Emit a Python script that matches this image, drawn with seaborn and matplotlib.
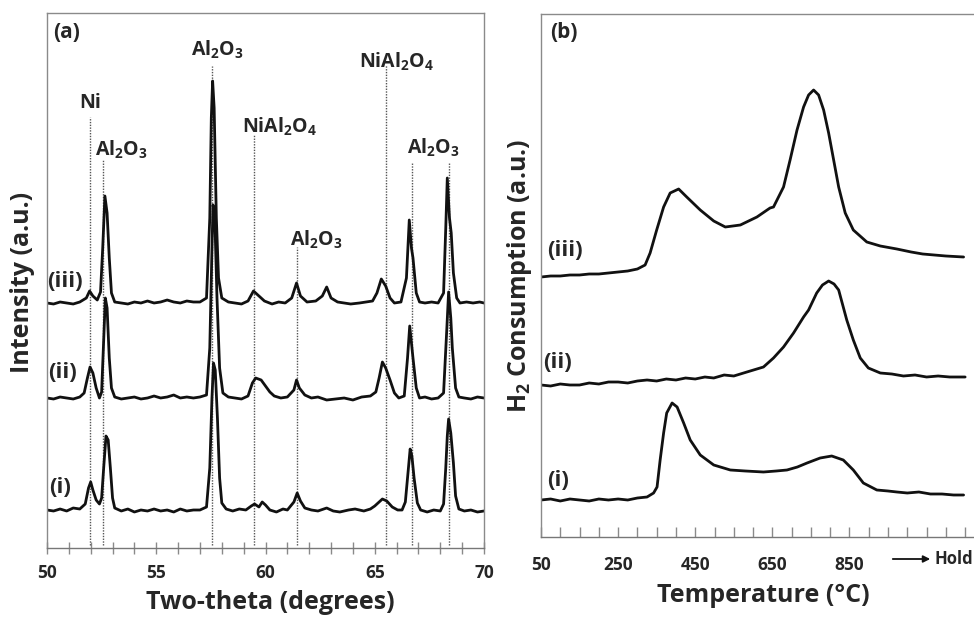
import matplotlib
matplotlib.use("Agg")
import matplotlib.pyplot as plt
import pandas as pd
import seaborn as sns
from matplotlib.ticker import MultipleLocator, FixedLocator

# ---------------- XRD data (panel a), traces stacked with offsets ----------------
xrd_i_x = [50.0, 50.3, 50.6, 50.9, 51.2, 51.5, 51.75, 51.9, 52.0, 52.1, 52.25, 52.4, 52.5, 52.6, 52.7,
           52.8, 52.9, 53.0, 53.1, 53.4, 53.7, 54.0, 54.3, 54.6, 54.9, 55.2, 55.5, 55.8, 56.1, 56.4,
           56.7, 57.0, 57.3, 57.45, 57.55, 57.62, 57.7, 57.8, 57.9, 58.0, 58.2, 58.5, 58.8, 59.1,
           59.35, 59.5, 59.7, 59.85, 60.0, 60.2, 60.5, 60.8, 61.0, 61.3, 61.45, 61.6, 61.8, 62.1,
           62.4, 62.8, 63.1, 63.4, 63.8, 64.1, 64.5, 64.8, 65.0, 65.2, 65.35, 65.55, 65.8, 66.05,
           66.25, 66.4, 66.55, 66.62, 66.7, 66.8, 66.95, 67.1, 67.4, 67.7, 68.0, 68.15, 68.25, 68.32,
           68.38, 68.48, 68.6, 68.7, 68.85, 69.1, 69.4, 69.7, 70.0]
xrd_i_y = [38, 37, 39, 37, 40, 39, 44, 60, 66, 58, 48, 44, 50, 82, 112,
           108, 80, 50, 40, 37, 39, 36, 38, 37, 39, 37, 38, 36, 39, 37,
           38, 38, 41, 80, 150, 185, 178, 130, 70, 45, 39, 37, 39, 38,
           42, 44, 41, 46, 43, 38, 36, 39, 38, 46, 55, 47, 40, 38,
           37, 40, 37, 36, 38, 39, 37, 39, 42, 46, 49, 47, 41, 38,
           38, 46, 82, 99, 92, 70, 45, 38, 36, 38, 37, 44, 80, 112,
           129, 115, 85, 52, 39, 37, 38, 36, 37]

xrd_ii_x = [50.0, 50.3, 50.6, 50.9, 51.2, 51.5, 51.7, 51.85, 51.97, 52.1, 52.25, 52.4, 52.5, 52.58, 52.67,
            52.75, 52.85, 52.95, 53.1, 53.4, 53.7, 54.0, 54.3, 54.6, 54.9, 55.2, 55.5, 55.8, 56.1,
            56.4, 56.7, 57.0, 57.3, 57.45, 57.55, 57.6, 57.68, 57.78, 57.9, 58.05, 58.3, 58.6, 58.9,
            59.2, 59.4, 59.55, 59.8, 60.0, 60.2, 60.4, 60.7, 61.0, 61.3, 61.42, 61.55, 61.8, 62.1,
            62.4, 62.8, 63.2, 63.6, 64.0, 64.4, 64.8, 65.05, 65.2, 65.35, 65.5, 65.7, 65.9, 66.1,
            66.35, 66.5, 66.6, 66.68, 66.75, 66.9, 67.05, 67.3, 67.6, 67.9, 68.15, 68.3, 68.38,
            68.48, 68.55, 68.7, 68.85, 69.1, 69.4, 69.7, 70.0]
xrd_ii_y = [150, 149, 151, 150, 149, 151, 155, 170, 181, 175, 160, 150, 156, 200, 250,
            240, 190, 160, 151, 149, 150, 151, 149, 150, 152, 150, 151, 153, 150,
            151, 150, 151, 153, 200, 300, 343, 330, 250, 180, 155, 151, 150, 149,
            152, 165, 170, 168, 162, 156, 152, 150, 151, 158, 168, 160, 153, 150,
            151, 148, 149, 150, 148, 151, 152, 156, 170, 186, 180, 168, 155, 150,
            152, 190, 222, 205, 190, 160, 150, 151, 149, 150, 155, 220, 256,
            230, 200, 160, 151, 150, 149, 151, 150]

xrd_iii_x = [50.0, 50.3, 50.6, 50.9, 51.2, 51.5, 51.8, 51.95, 52.1, 52.3, 52.45, 52.55, 52.65, 52.75,
             52.85, 52.95, 53.1, 53.4, 53.7, 54.0, 54.3, 54.6, 54.9, 55.2, 55.5, 55.8, 56.1, 56.4,
             56.7, 57.0, 57.3, 57.45, 57.52, 57.58, 57.65, 57.75, 57.85, 58.0, 58.3, 58.6, 58.9,
             59.2, 59.45, 59.7, 59.95, 60.3, 60.6, 60.9, 61.2, 61.42, 61.6, 61.9, 62.3, 62.6, 62.8,
             63.0, 63.3, 63.6, 63.9, 64.3, 64.6, 64.9, 65.1, 65.3, 65.5, 65.7, 65.9, 66.2, 66.45,
             66.58, 66.68, 66.75, 66.9, 67.05, 67.3, 67.6, 67.9, 68.15, 68.25, 68.32, 68.42, 68.5,
             68.6, 68.75, 68.9, 69.2, 69.5, 69.8, 70.0]
xrd_iii_y = [245, 244, 246, 245, 244, 246, 250, 257, 252, 248, 256, 300, 352, 335,
             290, 255, 246, 245, 244, 246, 245, 247, 245, 246, 248, 246, 245, 247,
             246, 246, 250, 330, 430, 467, 440, 330, 270, 250, 246, 245, 244,
             247, 257, 252, 247, 244, 246, 245, 250, 265, 252, 246, 247, 252, 261,
             250, 246, 245, 244, 245, 246, 247, 255, 269, 262, 250, 245, 246, 270,
             328, 300, 290, 255, 246, 245, 246, 245, 255, 320, 370, 330, 315,
             275, 250, 245, 246, 245, 246, 245]

ref_positions = [51.97, 52.58, 57.54, 59.47, 61.43, 65.5, 66.69, 68.4]
ref_tops = [431, 388, 482, 413, 301, 483, 385, 385]

phase_labels = ["Ni", r"Al$_2$O$_3$", r"Al$_2$O$_3$", r"NiAl$_2$O$_4$",
                r"Al$_2$O$_3$", r"NiAl$_2$O$_4$", r"Al$_2$O$_3$"]
phase_label_x = [51.97, 53.43, 57.78, 60.62, 62.31, 66.02, 67.67]
phase_label_y = [445, 398, 498, 421, 308, 486, 400]

xrd_ticks = [50, 55, 60, 65, 70]

# ---------------- TPR data (panel b) ----------------
tpr_i_t = [50, 75, 100, 125, 150, 175, 200, 225, 250, 275, 300, 325, 342, 351, 359, 368, 376, 390,
           403, 420, 437, 463, 498, 541, 580, 627, 660, 688, 715, 740, 774, 804, 834, 860, 886,
           921, 950, 973, 1000, 1030, 1060, 1090, 1120, 1146]
tpr_i_y = [37, 38, 36, 38, 37, 36, 38, 37, 38, 37, 39, 40, 44, 50, 77, 104, 124, 134,
           130, 114, 97, 82, 72, 67, 66, 65, 66, 67, 70, 74, 79, 81, 77, 67, 54,
           47, 46, 45, 44, 45, 43, 43, 42, 42]

tpr_ii_t = [50, 75, 100, 125, 150, 175, 200, 225, 250, 275, 300, 325, 350, 375, 400, 425, 450, 475,
            498, 525, 550, 584, 627, 653, 679, 705, 731, 744, 765, 780, 796, 810, 822, 843, 860,
            878, 899, 930, 960, 990, 1020, 1050, 1080, 1110, 1150]
tpr_ii_y = [152, 151, 153, 152, 152, 154, 153, 155, 155, 154, 156, 157, 156, 158, 157, 159, 158, 160,
            159, 162, 161, 165, 170, 179, 190, 204, 220, 227, 244, 252, 256, 253, 247, 217, 197,
            179, 169, 164, 163, 161, 162, 160, 161, 160, 160]

tpr_iii_t = [50, 75, 100, 125, 150, 175, 200, 225, 250, 275, 300, 320, 333, 350, 368, 385, 407, 428,
             463, 498, 528, 567, 610, 644, 653, 679, 696, 714, 731, 744, 757, 770, 783, 796, 809,
             822, 839, 860, 895, 930, 973, 1010, 1040, 1070, 1100, 1146]
tpr_iii_y = [260, 261, 261, 262, 262, 263, 263, 264, 265, 266, 268, 272, 284, 307, 330, 344, 348, 340,
             327, 316, 310, 312, 320, 329, 330, 350, 377, 407, 430, 442, 447, 442, 427, 404, 377,
             350, 324, 307, 295, 291, 288, 285, 283, 282, 281, 280]

tpr_major_ticks = [50, 250, 450, 650, 850]
tpr_minor_ticks = list(range(50, 1151, 50))

# ---------------- styling ----------------
sns.set_style("white")
FONT = ["Open Sans", "DejaVu Sans"]
plt.rcParams["font.family"] = FONT
plt.rcParams["font.weight"] = "bold"
plt.rcParams["mathtext.fontset"] = "custom"
plt.rcParams["mathtext.rm"] = "Open Sans:bold"
plt.rcParams["mathtext.it"] = "Open Sans:bold:italic"
plt.rcParams["mathtext.bf"] = "Open Sans:bold"

SPINE = "#8a8a8a"
LINE_W = 2.0
INK = "#111111"

fig = plt.figure(figsize=(9.74, 6.17), dpi=100)
W, H = 974.0, 617.0
ax1 = fig.add_axes([47 / W, 1 - 548 / H, (484 - 47) / W, (548 - 13) / H])
ax2 = fig.add_axes([541 / W, 1 - 537 / H, (974 - 541) / W, (537 - 14) / H])

# ---- panel (a) ----
for xs, ys in [(xrd_i_x, xrd_i_y), (xrd_ii_x, xrd_ii_y), (xrd_iii_x, xrd_iii_y)]:
    df = pd.DataFrame({"theta": xs, "intensity": ys})
    sns.lineplot(data=df, x="theta", y="intensity", ax=ax1, color=INK,
                 linewidth=LINE_W, sort=False, estimator=None)

ax1.vlines(ref_positions, 3, ref_tops, colors="#555555", linestyles=(0, (1, 1)), linewidth=1.0, zorder=1)

for lab, lx, ly in zip(phase_labels, phase_label_x, phase_label_y):
    ax1.text(lx, ly, lab, ha="center", va="center", fontsize=14, fontweight="bold")

ax1.text(50.0, 266, "(iii)", ha="left", va="center", fontsize=16, fontweight="bold")
ax1.text(50.05, 175, "(ii)", ha="left", va="center", fontsize=16, fontweight="bold")
ax1.text(50.1, 60, "(i)", ha="left", va="center", fontsize=16, fontweight="bold")
ax1.text(0.014, 0.963, "(a)", transform=ax1.transAxes, ha="left", va="center",
         fontsize=15, fontweight="bold")

ax1.set_xlim(50, 70)
ax1.set_ylim(0, 535)
ax1.xaxis.set_major_locator(FixedLocator(xrd_ticks))
ax1.xaxis.set_minor_locator(MultipleLocator(1))
ax1.set_yticks([])
ax1.tick_params(axis="x", which="both", direction="inout", length=9, width=1, color=SPINE,
                labelsize=12.5, pad=7)
ax1.tick_params(axis="x", which="both", bottom=True)
for s in ax1.spines.values():
    s.set_color(SPINE)
    s.set_linewidth(1.0)
ax1.spines["bottom"].set_color("#777777")
ax1.set_xlabel("Two-theta (degrees)", fontsize=18, fontweight="bold")
ax1.set_ylabel("Intensity (a.u.)", fontsize=18, fontweight="bold")
ax1.xaxis.label.set_va("center")
ax1.yaxis.label.set_va("center")
ax1.xaxis.set_label_coords(0.51, -0.101)
ax1.yaxis.set_label_coords(-0.055, 0.497)

# ---- panel (b) ----
for xs, ys in [(tpr_i_t, tpr_i_y), (tpr_ii_t, tpr_ii_y), (tpr_iii_t, tpr_iii_y)]:
    df = pd.DataFrame({"temp": xs, "h2": ys})
    sns.lineplot(data=df, x="temp", y="h2", ax=ax2, color=INK,
                 linewidth=LINE_W, sort=False, estimator=None)

ax2.text(66, 287, "(iii)", ha="left", va="center", fontsize=16, fontweight="bold")
ax2.text(56, 175, "(ii)", ha="left", va="center", fontsize=16, fontweight="bold")
ax2.text(66, 57, "(i)", ha="left", va="center", fontsize=16, fontweight="bold")
ax2.text(0.021, 0.964, "(b)", transform=ax2.transAxes, ha="left", va="center",
         fontsize=15, fontweight="bold")

ax2.set_xlim(50, 1173)
ax2.set_ylim(0, 523)
ax2.xaxis.set_major_locator(FixedLocator(tpr_major_ticks))
ax2.xaxis.set_minor_locator(FixedLocator(tpr_minor_ticks))
ax2.set_yticks([])
ax2.tick_params(axis="x", which="both", direction="in", length=7, width=1, color=SPINE,
                labelsize=12.5, pad=14)
ax2.tick_params(axis="x", which="both", bottom=True)
for s in ax2.spines.values():
    s.set_color(SPINE)
    s.set_linewidth(1.0)
ax2.spines["right"].set_visible(False)
ax2.spines["bottom"].set_color("#777777")
ax2.set_xlabel("Temperature (°C)", fontsize=18, fontweight="bold")
ax2.set_ylabel(r"H$_2$ Consumption (a.u.)", fontsize=18, fontweight="bold")
ax2.xaxis.label.set_va("center")
ax2.yaxis.label.set_va("center")
ax2.xaxis.set_label_coords(0.513, -0.111)
ax2.yaxis.set_label_coords(-0.0485, 0.499)

# "→ Hold" annotation below the axis
fig.add_artist(matplotlib.patches.FancyArrowPatch((890 / W, 1 - 559 / H), (933 / W, 1 - 559 / H),
                                                  transform=fig.transFigure, arrowstyle="-|>",
                                                  mutation_scale=10, color=INK, linewidth=1.3))
fig.text(935 / W, 1 - 559 / H, "Hold", ha="left", va="center", fontsize=12, fontweight="bold")

fig.savefig("out.png", dpi=100)
